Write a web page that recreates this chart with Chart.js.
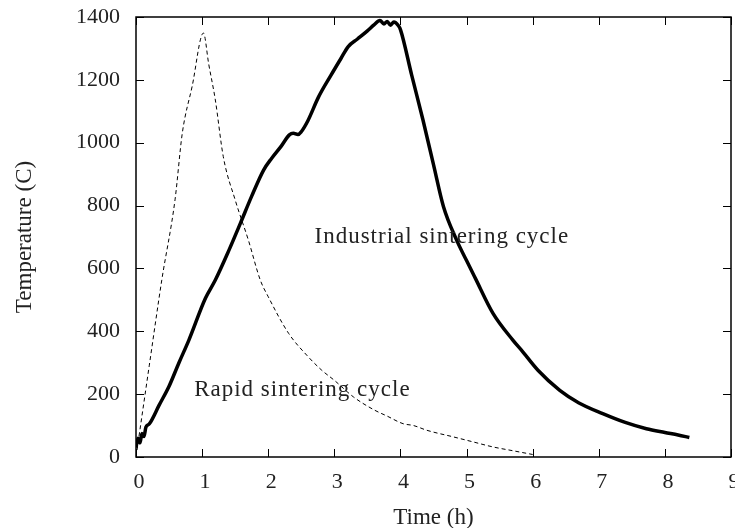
<!DOCTYPE html>
<html>
<head>
<meta charset="utf-8">
<script src="https://cdn.jsdelivr.net/npm/chart.js@4.4.1/dist/chart.umd.min.js"></script>
<style>
  html, body { margin: 0; padding: 0; background: #fff; }
  #wrap { width: 735px; height: 528px; position: relative; }
</style>
</head>
<body>
<div id="wrap"><canvas id="sinter"></canvas></div>
<script>
// furnace temperature traces (h, deg C)
const indTime = [0, 0.03, 0.06, 0.09, 0.12, 0.15, 0.2, 0.35, 0.5, 0.65, 0.8, 1.05, 1.2, 1.4, 1.58, 1.75, 1.93, 2.05, 2.2, 2.32, 2.38, 2.45, 2.5, 2.6, 2.76, 2.95, 3.1, 3.21, 3.35, 3.5, 3.6, 3.69, 3.75, 3.8, 3.85, 3.9, 3.97, 4.0, 4.17, 4.34, 4.5, 4.65, 4.85, 5.0, 5.13, 5.4, 5.7, 5.83, 6.08, 6.41, 6.7, 7.06, 7.4, 7.72, 8.0, 8.2, 8.37];
const indTemp = [30, 60, 45, 75, 65, 95, 105, 165, 225, 300, 372, 505, 563, 655, 744, 830, 913, 950, 990, 1025, 1030, 1026, 1035, 1070, 1145, 1215, 1268, 1306, 1330, 1356, 1375, 1389, 1378, 1386, 1374, 1384, 1372, 1360, 1215, 1073, 930, 797, 690, 625, 570, 457, 372, 340, 276, 212, 172, 138, 110, 90, 78, 70, 62];

const rapTime = [0, 0.2, 0.39, 0.59, 0.7, 0.85, 1.02, 1.1, 1.2, 1.32, 1.5, 1.7, 1.88, 2.0, 2.31, 2.6, 2.81, 3.0, 3.29, 3.6, 3.8, 4.04, 4.2, 4.4, 4.8, 5.1, 5.4, 5.7, 5.9, 6.0];
const rapTemp = [0, 290, 563, 818, 1030, 1180, 1349, 1250, 1136, 956, 818, 690, 563, 510, 393, 320, 276, 244, 191, 150, 130, 106, 100, 85, 64, 48, 32, 20, 12, 8];

const xTicks = [0, 1, 2, 3, 4, 5, 6, 7, 8, 9];
const yTicks = [0, 200, 400, 600, 800, 1000, 1200, 1400];

const labelText = ['Industrial sintering cycle', 'Rapid sintering cycle'];
const labelX = [2.7, 0.88];
const labelY = [700, 212];

const FONT = '"Liberation Serif", "Times New Roman", serif';

const toPts = (xs, ys) => xs.map((x, i) => ({ x, y: ys[i] }));

// gnuplot-style frame with inward ticks on all four sides, plus the two labels
const framePlugin = {
  id: 'frame',
  afterDatasetsDraw(chart) {
    const { ctx, chartArea: a, scales } = chart;
    ctx.save();
    ctx.strokeStyle = '#000';
    ctx.lineWidth = 1;
    const len = 8;
    ctx.beginPath();
    xTicks.forEach(v => {
      const px = Math.round(scales.x.getPixelForValue(v)) + 0.5;
      ctx.moveTo(px, a.bottom); ctx.lineTo(px, a.bottom - len);
      ctx.moveTo(px, a.top); ctx.lineTo(px, a.top + len);
    });
    yTicks.forEach(v => {
      const py = Math.round(scales.y.getPixelForValue(v)) + 0.5;
      ctx.moveTo(a.left, py); ctx.lineTo(a.left + len, py);
      ctx.moveTo(a.right, py); ctx.lineTo(a.right - len, py);
    });
    ctx.stroke();
    ctx.lineWidth = 1.5;
    ctx.strokeRect(a.left, a.top, a.right - a.left, a.bottom - a.top);

    ctx.fillStyle = '#222';
    ctx.font = '23px ' + FONT;
    ctx.letterSpacing = '1px';
    ctx.textAlign = 'left';
    ctx.textBaseline = 'middle';
    labelText.forEach((t, i) => {
      ctx.fillText(t, scales.x.getPixelForValue(labelX[i]), scales.y.getPixelForValue(labelY[i]));
    });
    ctx.restore();
  }
};

new Chart(document.getElementById('sinter'), {
  type: 'scatter',
  data: {
    datasets: [
      { label: 'Industrial', data: toPts(indTime, indTemp), showLine: true, borderColor: '#000', backgroundColor: '#000', borderWidth: 3.5, pointRadius: 0, cubicInterpolationMode: 'monotone' },
      { label: 'Rapid', data: toPts(rapTime, rapTemp), showLine: true, borderColor: '#000', backgroundColor: '#000', borderWidth: 1, borderDash: [4, 3], pointRadius: 0, cubicInterpolationMode: 'monotone' }
    ]
  },
  options: {
    responsive: true, maintainAspectRatio: false, animation: false,
    layout: { padding: { top: 17, right: 4, left: 0, bottom: 0 } },
    plugins: { legend: { display: false }, tooltip: { enabled: false } },
    scales: {
      x: {
        type: 'linear', min: 0, max: 9,
        afterBuildTicks: s => { s.ticks = xTicks.map(v => ({ value: v })); },
        afterFit: s => { s.height = 71; s.paddingLeft = 0; s.paddingRight = 0; },
        grid: { display: false }, border: { display: false },
        ticks: { color: '#222', padding: 4, labelOffset: 3, font: { family: FONT, size: 22 } },
        title: { display: true, text: 'Time (h)', color: '#222', padding: { top: 0, bottom: -4 }, font: { family: FONT, size: 23 } }
      },
      y: {
        min: 0, max: 1400,
        afterBuildTicks: s => { s.ticks = yTicks.map(v => ({ value: v })); },
        afterFit: s => { s.width = 136; s.paddingTop = 0; s.paddingBottom = 0; },
        grid: { display: false }, border: { display: false },
        ticks: { color: '#222', padding: 8, font: { family: FONT, size: 22 }, callback: v => String(v) },
        title: { display: true, text: 'Temperature (C)', color: '#222', padding: { top: 11 }, font: { family: FONT, size: 23 } }
      }
    }
  },
  plugins: [framePlugin]
});
</script>
</body>
</html>
